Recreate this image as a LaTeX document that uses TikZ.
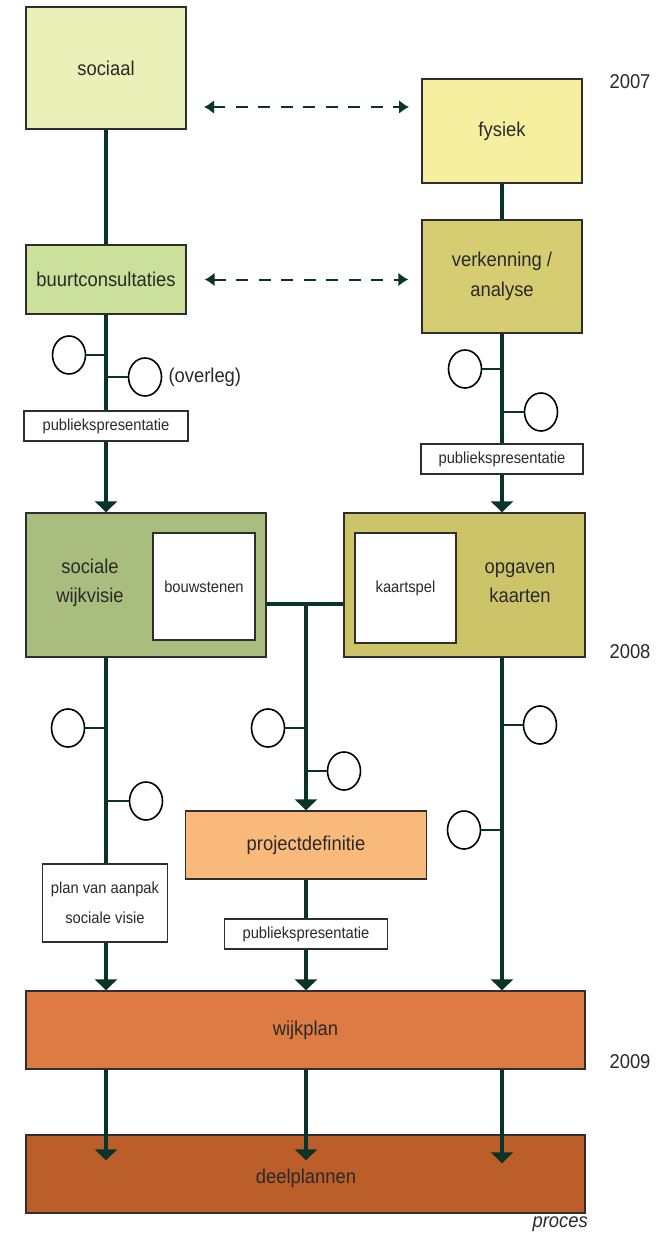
\documentclass[tikz,border=0pt]{standalone}
\usepackage{fontspec}
\setmainfont{Liberation Sans}[FakeStretch=0.92]
\usetikzlibrary{arrows.meta,shapes.geometric}
\definecolor{ln}{HTML}{0A3329}
\definecolor{bd}{HTML}{2E2E2E}
\definecolor{tx}{HTML}{2A2A2A}
\definecolor{cSociaal}{HTML}{EAF0B8}
\definecolor{cFysiek}{HTML}{F5EF9F}
\definecolor{cBuurt}{HTML}{CBE09A}
\definecolor{cVerk}{HTML}{D6CC72}
\definecolor{cVisie}{HTML}{A9BD7F}
\definecolor{cOpgaven}{HTML}{CDC46A}
\definecolor{cProj}{HTML}{F9B97B}
\definecolor{cWijk}{HTML}{DE7B45}
\definecolor{cDeel}{HTML}{BC5E29}
\begin{document}
\begin{tikzpicture}[x=1pt,y=-1pt,
  box/.style={draw=bd, line width=1.4pt, inner sep=0pt, text=tx,
    font=\fontsize{20}{30}\selectfont, align=center},
  wbox/.style={box, fill=white, font=\fontsize{16}{30}\selectfont},
  lbl/.style={inner sep=0pt, text=tx, font=\fontsize{20}{29}\selectfont, align=center},
  circ/.style={ellipse, draw=black, line width=1.6pt, fill=white,
    minimum width=33pt, minimum height=38pt, inner sep=0pt},
  main/.style={draw=ln, line width=3.8pt},
  arr/.style={main, -{Triangle[width=22pt,length=11pt]}},
  tick/.style={draw=ln, line width=2.2pt},
  dasharr/.style={draw=ln, line width=2pt, dash pattern=on 12pt off 10.5pt,
    {Latex[width=14pt,length=10pt]}-{Latex[width=14pt,length=10pt]}}
]
\useasboundingbox (0,0) rectangle (669,1233);
\fill[white] (0,0) rectangle (669,1233);

% column coordinates
\coordinate (L) at (106,0);
\coordinate (M) at (306,0);
\coordinate (R) at (502,0);
\coordinate (J) at (306,604);
\coordinate (d1a) at (204,107);
\coordinate (d1b) at (409,107);

% boxes
\node[box, fill=cSociaal, minimum width=160pt, minimum height=122pt] (sociaal) at (106,68) {sociaal};
\node[box, fill=cFysiek, minimum width=160pt, minimum height=104pt] (fysiek) at (502,131) {fysiek};
\node[box, fill=cBuurt, minimum width=160pt, minimum height=69pt] (buurt) at (106,279.5) {buurtconsultaties};
\node[box, fill=cVerk, minimum width=160pt, minimum height=113pt] (verk) at (502,276.5) {verkenning /\\analyse};
\node[wbox, minimum width=164pt, minimum height=30pt] (pub1) at (106,426) {publiekspresentatie};
\node[wbox, minimum width=162pt, minimum height=30pt] (pub2) at (502,459) {publiekspresentatie};

\node[box, fill=cVisie, minimum width=240pt, minimum height=144pt] (visie) at (146,585) {};
\node[lbl] (visietxt) at (90,583) {sociale\\wijkvisie};
\node[wbox, minimum width=102pt, minimum height=107pt] (bouw) at (204,586.5) {bouwstenen};
\node[box, fill=cOpgaven, minimum width=241pt, minimum height=144pt] (opgaven) at (464.5,585) {};
\node[lbl] (opgtxt) at (520,583) {opgaven\\kaarten};
\node[wbox, minimum width=101pt, minimum height=110pt] (kaart) at (405.5,588) {kaartspel};

\node[box, fill=cProj, minimum width=241pt, minimum height=68pt] (proj) at (306,845) {projectdefinitie};
\node[wbox, minimum width=125pt, minimum height=78pt] (plan) at (105,903) {plan van aanpak\\sociale visie};
\node[wbox, minimum width=163pt, minimum height=30pt] (pub3) at (306,934) {publiekspresentatie};

\node[box, fill=cWijk, minimum width=559pt, minimum height=78pt] (wijk) at (305.5,1030) {wijkplan};
\node[box, fill=cDeel, minimum width=559pt, minimum height=78pt, text depth=0pt] (deel) at (305.5,1174) {};
\node[lbl] (deeltxt) at (306,1178) {deelplannen};

% year labels
\node[lbl] (y2007) at (630,82) {2007};
\node[lbl] (y2008) at (630,652) {2008};
\node[lbl] (y2009) at (630,1062) {2009};
\node[lbl, anchor=east, font=\fontsize{20}{24}\selectfont\itshape] (proces) at (588,1224) {proces};

% dashed arrows
\draw[dasharr] (d1a) -- (d1b);
\draw[dasharr, shorten <=18pt, shorten >=13pt] (buurt.east) -- (buurt.east -| verk.west);

% circles
\node[circ] (c1) at (69,355) {};
\node[circ] (c2) at (145,377) {};
\node[circ] (c3) at (465,369) {};
\node[circ] (c4) at (541,412) {};
\node[circ] (c5) at (68,728) {};
\node[circ] (c6) at (146,801) {};
\node[circ] (c7) at (268,728) {};
\node[circ] (c8) at (344,771) {};
\node[circ] (c9) at (540,725) {};
\node[circ] (c10) at (464,830) {};
\node[lbl, anchor=west, xshift=6pt] (overleg) at (c2.east) {(overleg)};

% circle ticks
\draw[tick] (c1.east) -- (L |- c1.east);
\draw[tick] (c2.west) -- (L |- c2.west);
\draw[tick] (c3.east) -- (R |- c3.east);
\draw[tick] (c4.west) -- (R |- c4.west);
\draw[tick] (c5.east) -- (L |- c5.east);
\draw[tick] (c6.west) -- (L |- c6.west);
\draw[tick] (c7.east) -- (M |- c7.east);
\draw[tick] (c8.west) -- (M |- c8.west);
\draw[tick] (c9.west) -- (R |- c9.west);
\draw[tick] (c10.east) -- (R |- c10.east);

% main lines
\draw[main] (sociaal.south) -- (buurt.north);
\draw[main] (buurt.south) -- (pub1.north);
\draw[arr] (pub1.south) -- (L |- visie.north);
\draw[main] (fysiek.south) -- (verk.north);
\draw[main] (verk.south) -- (pub2.north);
\draw[arr] (pub2.south) -- (R |- opgaven.north);

\draw[main] (visie.east |- J) -- (opgaven.west |- J);
\draw[arr] (J) -- (proj.north);

\draw[main] (L |- visie.south) -- (L |- plan.north);
\draw[arr] (L |- plan.south) -- (L |- wijk.north);
\draw[main] (proj.south) -- (pub3.north);
\draw[arr] (pub3.south) -- (M |- wijk.north);
\draw[arr] (R |- opgaven.south) -- (R |- wijk.north);

\draw[arr] (L |- wijk.south) -- ([yshift=-26pt]L |- deel.north);
\draw[arr] (M |- wijk.south) -- ([yshift=-26pt]M |- deel.north);
\draw[arr] (R |- wijk.south) -- ([yshift=-29pt]R |- deel.north);
\end{tikzpicture}
\end{document}
